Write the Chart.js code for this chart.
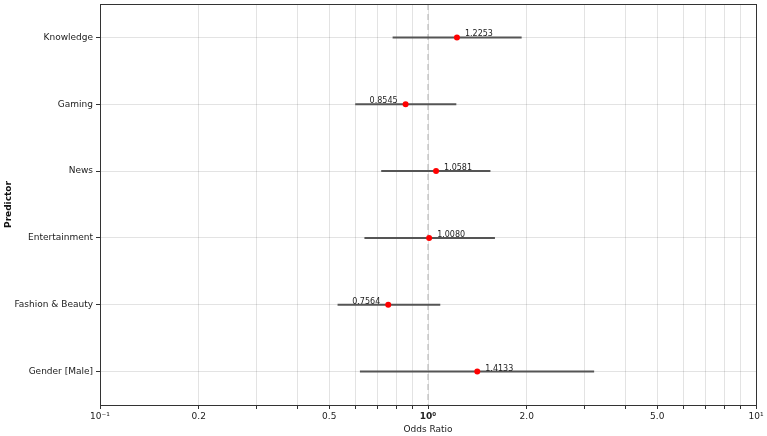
<!DOCTYPE html>
<html>
<head>
<meta charset="utf-8">
<script src="https://cdn.jsdelivr.net/npm/chart.js@4/dist/chart.umd.min.js"></script>
<style>
  html, body { margin: 0; padding: 0; background: #ffffff; }
  #wrap { width: 767px; height: 436px; position: relative; }
</style>
</head>
<body>
<div id="wrap"><canvas id="c"></canvas></div>
<script>
const categories = ['Knowledge', 'Gaming', 'News', 'Entertainment', 'Fashion & Beauty', 'Gender [Male]'];
const oddsRatios = [1.2253, 0.8545, 1.0581, 1.0080, 0.7564, 1.4133];
const ciLower = [0.78, 0.60, 0.72, 0.64, 0.53, 0.62];
const ciUpper = [1.93, 1.22, 1.55, 1.60, 1.09, 3.21];
const xTickValues = [0.1, 0.2, 0.3, 0.4, 0.5, 0.6, 0.7, 0.8, 0.9, 1, 2, 3, 4, 5, 6, 7, 8, 9, 10];
const xTickLabels = { 0.1: '10\u207B\u00B9', 0.2: '0.2', 0.5: '0.5', 1: '10\u2070', 2: '2.0', 5: '5.0', 10: '10\u00B9' };
const referenceValue = 1;

const FONT = 'DejaVu Sans';

const ciDatasets = categories.map((c, i) => ({
  label: c + ' CI',
  data: [{ x: ciLower[i], y: i }, { x: ciUpper[i], y: i }],
  showLine: true,
  borderColor: '#555555',
  borderWidth: 2,
  pointRadius: 0,
  order: 2
}));

const refLine = {
  label: 'ref',
  data: [{ x: referenceValue, y: -0.5 }, { x: referenceValue, y: categories.length - 0.5 }],
  showLine: true,
  borderColor: 'rgba(160,160,160,0.8)',
  borderWidth: 1,
  borderDash: [6, 4],
  pointRadius: 0,
  order: 3
};

const pointDataset = {
  label: 'OR',
  data: oddsRatios.map((v, i) => ({ x: v, y: i })),
  backgroundColor: '#ff0000',
  borderColor: '#ff0000',
  pointRadius: 3,
  pointBorderWidth: 0,
  order: 1
};

const framePlugin = {
  id: 'frame',
  afterDraw(chart) {
    const a = chart.chartArea, ctx = chart.ctx;
    ctx.save();
    ctx.strokeStyle = '#333333';
    ctx.lineWidth = 1;
    ctx.strokeRect(a.left + 0.5, a.top + 0.5, a.right - a.left, a.bottom - a.top);
    ctx.restore();
  }
};

const labelPlugin = {
  id: 'valueLabels',
  afterDatasetsDraw(chart) {
    const ctx = chart.ctx, xs = chart.scales.x, ys = chart.scales.y;
    ctx.save();
    ctx.font = '8px "' + FONT + '"';
    ctx.fillStyle = '#222222';
    ctx.textBaseline = 'alphabetic';
    oddsRatios.forEach((v, i) => {
      const px = xs.getPixelForValue(v), py = ys.getPixelForValue(i);
      if (v >= 1) { ctx.textAlign = 'left'; ctx.fillText(v.toFixed(4), px + 8, py - 1); }
      else { ctx.textAlign = 'right'; ctx.fillText(v.toFixed(4), px - 8, py - 1); }
    });
    ctx.restore();
  }
};

new Chart(document.getElementById('c'), {
  type: 'scatter',
  data: { datasets: [refLine, ...ciDatasets, pointDataset] },
  options: {
    responsive: true,
    maintainAspectRatio: false,
    animation: false,
    layout: { padding: { top: 3, right: 11, left: 0, bottom: 0 } },
    plugins: { legend: { display: false }, tooltip: { enabled: false } },
    scales: {
      x: {
        type: 'logarithmic',
        min: 0.1,
        max: 10,
        afterBuildTicks(scale) { scale.ticks = xTickValues.map(v => ({ value: v })); },
        afterFit(scale) { scale.height = 31; scale.paddingLeft = 0; scale.paddingRight = 0; },
        ticks: {
          autoSkip: false,
          maxRotation: 0,
          padding: 2,
          color: '#222222',
          font: (ctx) => ({ family: FONT, size: 9, weight: (ctx.tick && ctx.tick.value === 1) ? 'bold' : 'normal' }),
          callback: (v) => (xTickLabels[v] !== undefined ? xTickLabels[v] : '')
        },
        grid: { color: 'rgba(0,0,0,0.11)', tickColor: '#333333', tickLength: 4, lineWidth: 1 },
        border: { display: true, color: '#333333' },
        title: { display: true, text: 'Odds Ratio', color: '#222222', font: { family: FONT, size: 9 }, padding: { top: 2, bottom: 1 } }
      },
      y: {
        type: 'linear',
        min: -0.5,
        max: categories.length - 0.5,
        reverse: true,
        afterBuildTicks(scale) { scale.ticks = categories.map((_, i) => ({ value: i })); },
        afterFit(scale) { scale.width = 100; scale.paddingTop = 0; scale.paddingBottom = 0; },
        ticks: {
          autoSkip: false,
          padding: 3,
          color: '#1a1a1a',
          font: { family: FONT, size: 9 },
          callback: (v) => categories[v]
        },
        grid: { color: 'rgba(0,0,0,0.11)', tickColor: '#333333', tickLength: 4, lineWidth: 1 },
        border: { display: true, color: '#333333' },
        title: { display: true, text: 'Predictor', color: '#111111', font: { family: FONT, size: 9, weight: 'bold' }, padding: { top: 3, bottom: 2 } }
      }
    }
  },
  plugins: [framePlugin, labelPlugin]
});
</script>
</body>
</html>
